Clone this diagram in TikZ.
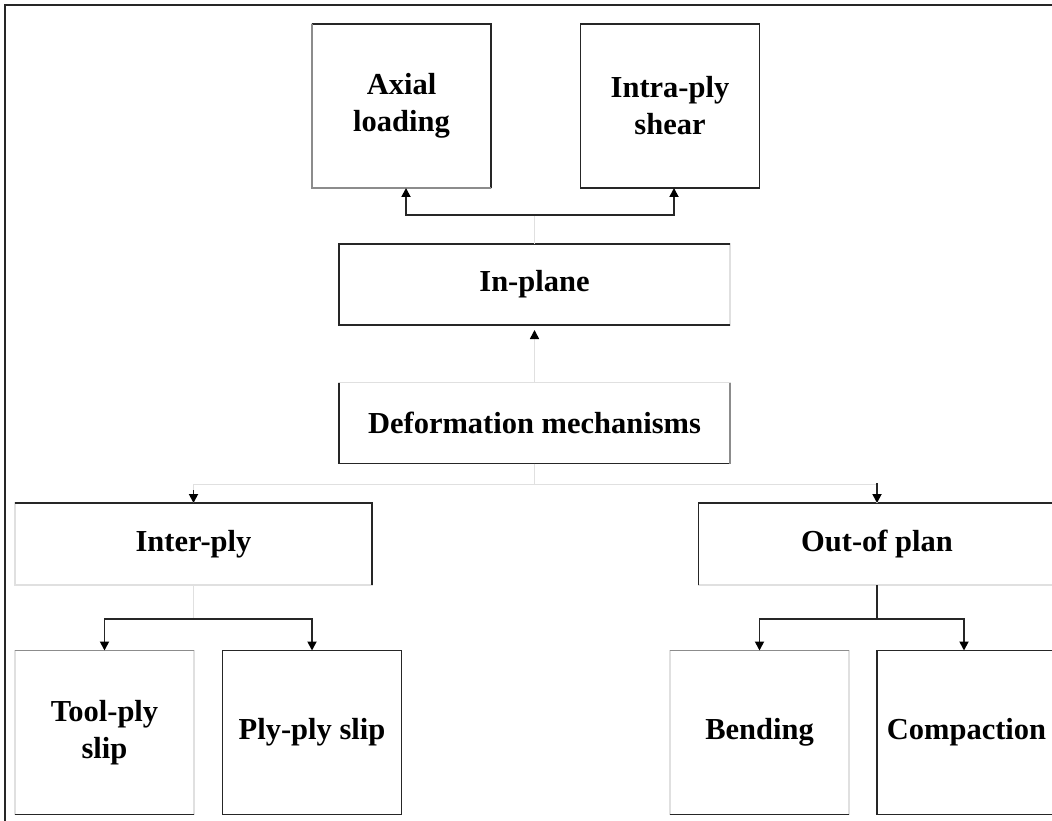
\documentclass[tikz,border=0pt]{standalone}
\usepackage{fontspec}
\setmainfont{Liberation Serif}
\usetikzlibrary{arrows.meta,calc}

\tikzset{
	box/.style={draw=black!12, line width=1.6pt, inner sep=0pt, outer sep=0pt,
		align=center, font=\fontsize{30.5}{37}\selectfont\bfseries},
	tall/.style={minimum width=179pt, minimum height=164pt},
	wide/.style={minimum width=391pt, minimum height=81pt},
	band/.style={minimum width=357pt, minimum height=82pt},
	edge/.style={draw=black!85, line width=1.8pt},
	pale/.style={draw=black!45, line width=1.6pt},
	faint/.style={draw=black!12, line width=1.6pt},
	tip/.style={-{Triangle[width=9pt,length=9pt,color=black]}}
}

\begin{document}
\begin{tikzpicture}[x=1pt,y=-1pt]
	\useasboundingbox (0,0) rectangle (1052,821);
	% frame
	\draw[edge] (5,821) -- (5,5) -- (1052,5);

	% top row
	\node [box, tall] (axial) at (401.5,106) {Axial\\loading};
	\node [box, tall] (intra) at (670,106) {Intra-ply\\shear};

	% middle
	\node [box, wide] (inplane) at (534.5,284.5) {In-plane};
	\node [box, wide] (deform) at (534.5,423) {Deformation mechanisms};

	% second level
	\node [box, band] (inter) at (193.5,544) {Inter-ply};
	\node [box, band] (outof) at (877,544) {Out-of plan};

	% bottom row
	\node [box, tall] (toolply) at (104.5,732.5) {Tool-ply\\slip};
	\node [box, tall] (plyply) at (312,732.5) {Ply-ply slip};
	\node [box, tall] (bending) at (759.5,732.5) {Bending};
	\node [box, tall] (compaction) at (966.5,732.5) {Compaction};

	% visible borders
	\draw[edge] (axial.north west) -- (axial.north east) -- (axial.south east);
	\draw[pale] (axial.north west) -- (axial.south west) -- (axial.south east);
	\draw[edge] (intra.north west) rectangle (intra.south east);
	\draw[edge] (inplane.north east) -- (inplane.north west) -- (inplane.south west) -- (inplane.south east);
	\draw[edge] (deform.north west) -- (deform.south west) -- (deform.south east);
	\draw[pale] (deform.south east) -- (deform.north east);
	\draw[edge] (inter.north west) -- (inter.north east) -- (inter.south east);
	\draw[edge] (outof.south west) -- (outof.north west) -- (outof.north east);
	\draw[pale] (toolply.north west) -- (toolply.north east);
	\draw[edge] (toolply.south west) -- (toolply.south east);
	\draw[edge] (plyply.north west) rectangle (plyply.south east);
	\draw[pale] (bending.north west) -- (bending.north east);
	\draw[edge] (bending.south west) -- (bending.south east);
	\draw[edge] (compaction.south east) -- (compaction.south west) -- (compaction.north west) -- (compaction.north east);

	% connectors
	\draw[faint] (inplane.north) -- ++(0,-29) coordinate (up);
	\draw[edge, tip] (up) -| ($(axial.south)+(4.5,0)$);
	\draw[edge, tip] (up) -| ($(intra.south)+(4,0)$);
	\draw[faint, tip, shorten >=5pt] (deform.north) -- (inplane.south);

	\draw[faint] (deform.south) -- ++(0,21) coordinate (down);
	\draw[faint] (down) -| (inter.north);
	\draw[faint] (down) -| (outof.north);
	\draw[edge, tip] ($(inter.north)+(0,-13)$) -- (inter.north);
	\draw[edge, tip] ($(outof.north)+(0,-20)$) -- (outof.north);

	\draw[faint] (inter.south) -- ++(0,34) coordinate (split);
	\draw[edge, tip] (split) -| (toolply.north);
	\draw[edge, tip] (split) -| (plyply.north);
	\draw[edge] (outof.south) -- ++(0,34) coordinate (fork);
	\draw[edge, tip] (fork) -| (bending.north);
	\draw[edge, tip] (fork) -| ($(compaction.north)+(-2.5,0)$);
\end{tikzpicture}
\end{document}
